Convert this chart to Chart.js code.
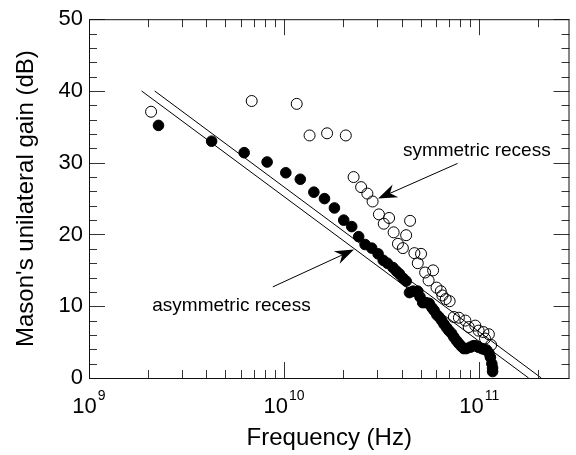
<!DOCTYPE html>
<html>
<head>
<meta charset="utf-8">
<script src="https://cdn.jsdelivr.net/npm/chart.js@4.4.1/dist/chart.umd.min.js"></script>
<style>
  html, body { margin: 0; padding: 0; background: #fff; }
</style>
</head>
<body>
<canvas id="chart" width="576" height="455"></canvas>
<script>
// symmetric recess (open circles)
const symFreq = [
  2.08e9, 6.82e9, 1.16e10, 1.35e10, 1.66e10, 2.07e10, 2.27e10, 2.48e10, 2.67e10, 2.84e10,
  3.06e10, 3.24e10, 3.45e10, 3.64e10, 3.83e10, 4.06e10, 4.22e10, 4.42e10, 4.65e10, 4.84e10,
  5.03e10, 5.28e10, 5.50e10, 5.80e10, 6.04e10, 6.35e10, 6.47e10, 6.73e10, 7.05e10, 7.41e10,
  7.86e10, 8.49e10, 8.83e10, 9.54e10, 9.92e10, 1.05e11, 1.07e11, 1.12e11, 1.15e11
];
const symGain = [
  37.1, 38.6, 38.2, 33.8, 34.1, 33.8, 28.0, 26.6, 25.7, 24.6,
  22.8, 21.5, 22.3, 20.3, 18.7, 18.1, 19.9, 21.9, 17.4, 16.0,
  17.3, 14.7, 13.6, 15.0, 12.6, 12.1, 11.5, 11.0, 10.7, 8.5,
  8.4, 8.0, 7.1, 7.3, 6.6, 6.4, 5.5, 6.1, 4.6
];

// asymmetric recess (filled circles)
const asymFreq = [
  2.27e9, 4.25e9, 6.24e9, 8.18e9, 1.02e10, 1.21e10, 1.42e10, 1.61e10, 1.81e10, 2.02e10,
  2.22e10, 2.41e10, 2.60e10, 2.81e10, 3.03e10, 3.22e10, 3.38e10, 3.61e10, 3.76e10, 3.90e10,
  4.07e10, 4.22e10, 4.39e10, 4.58e10, 4.84e10, 4.97e10, 5.13e10, 5.33e10, 5.54e10, 5.72e10,
  5.87e10, 6.06e10, 6.22e10, 6.42e10, 6.60e10, 6.81e10, 6.99e10, 7.22e10, 7.41e10, 7.65e10,
  7.86e10, 8.11e10, 8.33e10, 8.59e10, 9.00e10, 9.32e10, 9.55e10, 9.88e10, 1.03e11, 1.06e11,
  1.09e11, 1.12e11, 1.14e11, 1.16e11, 1.17e11, 1.17e11
];
const asymGain = [
  35.2, 33.0, 31.4, 30.1, 28.6, 27.7, 25.9, 25.0, 23.7, 22.0,
  21.1, 19.7, 18.6, 18.1, 17.3, 16.4, 16.0, 15.4, 14.9, 14.5,
  13.9, 13.5, 11.9, 12.1, 12.1, 11.3, 10.5, 10.5, 10.4, 9.8,
  9.4, 8.8, 8.5, 8.0, 7.5, 7.0, 6.6, 6.2, 5.7, 5.2,
  4.8, 4.4, 4.1, 4.1, 4.3, 4.5, 4.5, 4.3, 4.1, 4.0,
  3.9, 3.5, 2.9, 2.0, 1.4, 0.9
];

// -20 dB/decade guide lines (end points)
const guideLowFreq = [1.86e9, 1.79e11];
const guideLowGain = [40, 0];
const guideHighFreq = [2.17e9, 2.08e11];
const guideHighGain = [40, 0];

// axis ticks
const xDecades = [1e9, 1e10, 1e11];
const yMajorTicks = [0, 10, 20, 30, 40, 50];

const fontFamily = '"Liberation Sans", Arial, Helvetica, sans-serif';

// arrows + labels, in data units
const notes = [
  { text: 'symmetric recess', at: [4.06e10, 31.0], from: [7.74e10, 29.9], to: [3.03e10, 25.0] },
  { text: 'asymmetric recess', at: [2.11e9, 9.4], from: [8.75e9, 12.7], to: [2.28e10, 17.9] }
];

const toPoints = (xs, ys) => xs.map((x, i) => ({ x, y: ys[i] }));

const drawArrow = (ctx, x1, y1, x2, y2) => {
  const len = Math.hypot(x2 - x1, y2 - y1);
  const ux = (x2 - x1) / len, uy = (y2 - y1) / len;
  const nx = -uy, ny = ux;
  const L = 19, W = 7, notch = 6;
  ctx.beginPath();
  ctx.moveTo(x1, y1);
  ctx.lineTo(x2 - ux * (L - notch), y2 - uy * (L - notch));
  ctx.stroke();
  ctx.beginPath();
  ctx.moveTo(x2, y2);
  ctx.lineTo(x2 - ux * L + nx * W, y2 - uy * L + ny * W);
  ctx.lineTo(x2 - ux * (L - notch), y2 - uy * (L - notch));
  ctx.lineTo(x2 - ux * L - nx * W, y2 - uy * L - ny * W);
  ctx.closePath();
  ctx.fill();
};

const framePlugin = {
  id: 'frameTicks',
  afterDraw(chart) {
    const { ctx, chartArea: a, scales: { x, y } } = chart;
    ctx.save();

    // inward ticks on all four sides
    ctx.strokeStyle = '#333';
    ctx.lineWidth = 1;
    ctx.beginPath();
    for (let v = 0; v <= 50; v += 2) {
      const py = Math.round(y.getPixelForValue(v)) + 0.5;
      const len = v % 10 === 0 ? 16 : 8;
      ctx.moveTo(a.left, py); ctx.lineTo(a.left + len, py);
      ctx.moveTo(a.right, py); ctx.lineTo(a.right - len, py);
    }
    xDecades.forEach(d => {
      for (let k = 1; k <= 9; k++) {
        const v = d * k;
        if (v > x.max) break;
        const px = Math.round(x.getPixelForValue(v)) + 0.5;
        const len = k === 1 ? 16 : 8;
        ctx.moveTo(px, a.bottom); ctx.lineTo(px, a.bottom - len);
        ctx.moveTo(px, a.top); ctx.lineTo(px, a.top + len);
      }
    });
    ctx.stroke();

    // frame
    ctx.strokeStyle = '#111';
    ctx.strokeRect(a.left + 0.5, a.top + 0.5, a.right - a.left - 1, a.bottom - a.top);

    // x tick labels 10^n
    ctx.fillStyle = '#000';
    ctx.textBaseline = 'alphabetic';
    ctx.textAlign = 'left';
    xDecades.forEach(d => {
      const px = x.getPixelForValue(d);
      const exp = String(Math.round(Math.log10(d)));
      ctx.font = `22px ${fontFamily}`;
      const wb = ctx.measureText('10').width;
      ctx.font = `14px ${fontFamily}`;
      const we = ctx.measureText(exp).width;
      const x0 = px - (wb + 1 + we) / 2;
      ctx.font = `22px ${fontFamily}`;
      ctx.fillText('10', x0, a.bottom + 35);
      ctx.font = `14px ${fontFamily}`;
      ctx.fillText(exp, x0 + wb + 1, a.bottom + 22);
    });

    // annotations
    ctx.font = `19px ${fontFamily}`;
    ctx.lineWidth = 1;
    ctx.strokeStyle = '#000';
    notes.forEach(n => {
      ctx.fillText(n.text, x.getPixelForValue(n.at[0]), y.getPixelForValue(n.at[1]));
      drawArrow(ctx,
        x.getPixelForValue(n.from[0]), y.getPixelForValue(n.from[1]),
        x.getPixelForValue(n.to[0]), y.getPixelForValue(n.to[1]));
    });
    ctx.restore();
  }
};

new Chart(document.getElementById('chart'), {
  type: 'scatter',
  data: {
    datasets: [
      {
        label: 'guide low',
        data: toPoints(guideLowFreq, guideLowGain),
        showLine: true, borderColor: '#000', borderWidth: 1, pointRadius: 0
      },
      {
        label: 'guide high',
        data: toPoints(guideHighFreq, guideHighGain),
        showLine: true, borderColor: '#000', borderWidth: 1, pointRadius: 0
      },
      {
        label: 'symmetric recess',
        data: toPoints(symFreq, symGain),
        pointRadius: 5.5, pointBorderWidth: 1,
        pointBackgroundColor: 'rgba(0,0,0,0)', pointBorderColor: '#000'
      },
      {
        label: 'asymmetric recess',
        data: toPoints(asymFreq, asymGain),
        pointRadius: 5.3, pointBorderWidth: 1,
        pointBackgroundColor: '#000', pointBorderColor: '#000'
      }
    ]
  },
  options: {
    responsive: false,
    devicePixelRatio: 1,
    animation: false,
    layout: { padding: { top: 15, right: 1, left: 0, bottom: 0 } },
    plugins: { legend: { display: false }, tooltip: { enabled: false } },
    scales: {
      x: {
        type: 'logarithmic',
        min: 1e9,
        max: 2.9e11,
        grid: { display: false, drawTicks: false },
        border: { display: false },
        ticks: { display: false },
        title: {
          display: true,
          text: 'Frequency (Hz)',
          color: '#000',
          font: { family: fontFamily, size: 24, lineHeight: 1.2 },
          padding: { top: 0, bottom: 2 }
        },
        afterFit: s => { s.height = 77; }
      },
      y: {
        min: 0,
        max: 50,
        grid: { display: false, drawTicks: false },
        border: { display: false },
        ticks: {
          stepSize: 10,
          padding: 6,
          color: '#000',
          font: { family: fontFamily, size: 22 },
          callback: v => yMajorTicks.includes(v) ? String(v) : ''
        },
        title: {
          display: true,
          text: "Mason's unilateral gain (dB)",
          color: '#000',
          font: { family: fontFamily, size: 24, lineHeight: 1.2 },
          padding: { top: 12, bottom: 0 }
        },
        afterFit: s => { s.width = 89; }
      }
    }
  },
  plugins: [framePlugin]
});
</script>
</body>
</html>
